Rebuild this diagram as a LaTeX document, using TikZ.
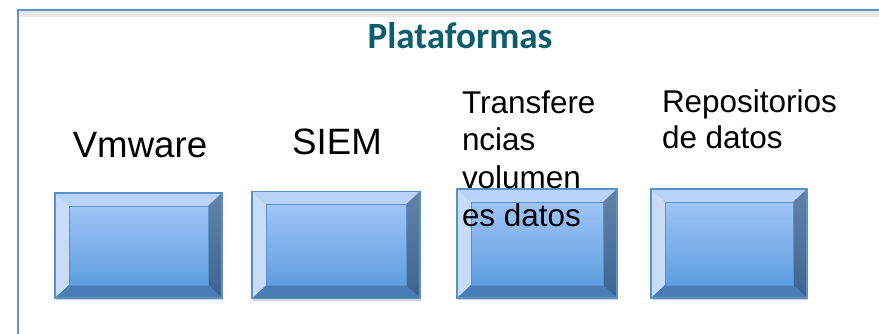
\documentclass[tikz,border=0pt]{standalone}
\usepackage{fontspec}
\setmainfont{Liberation Sans}
\newfontfamily\titlefont{Carlito}
\usepackage{tikz}
\usetikzlibrary{shadows}

\definecolor{titleteal}{RGB}{11,94,108}
\definecolor{frameblue}{RGB}{98,148,212}
\definecolor{bevline}{RGB}{90,143,208}
\definecolor{bevtop}{RGB}{185,212,247}
\definecolor{bevleft}{RGB}{201,220,245}
\definecolor{bevrighttop}{RGB}{100,130,168}
\definecolor{bevrightbot}{RGB}{60,100,146}
\definecolor{bevbottom}{RGB}{74,124,184}
\definecolor{facetop}{RGB}{160,196,246}
\definecolor{facebot}{RGB}{94,158,224}

\newcommand\bvx{10.5pt}
\newcommand\bvy{9.75pt}

\begin{document}
\begin{tikzpicture}[x=0.75pt, y=-0.75pt,
    every node/.style={inner sep=0pt, outer sep=0pt},
    bigtext/.style={font=\fontsize{27.5}{33}\selectfont, anchor=base},
    smalltext/.style={font=\fontsize{23.6}{28.2}\selectfont, align=left, anchor=base west},
    panel/.style={draw=frameblue, line width=1.3pt, anchor=north west,
        minimum width=680pt, minimum height=270pt,
        path picture={
            \shade[top color=black!9, bottom color=white]
                (path picture bounding box.north west) rectangle
                ([yshift=-5pt]path picture bounding box.north east);
        }},
    bevel/.style={draw=bevline, line width=0.8pt, fill=facebot,
        drop shadow={shadow xshift=1pt, shadow yshift=-1.5pt, opacity=0.3, fill=black!60},
        path picture={
            \coordinate (p1) at (path picture bounding box.north west);
            \coordinate (p2) at (path picture bounding box.north east);
            \coordinate (p3) at (path picture bounding box.south east);
            \coordinate (p4) at (path picture bounding box.south west);
            \coordinate (q1) at ([shift={(\bvx,-\bvy)}]p1);
            \coordinate (q2) at ([shift={(-\bvx,-\bvy)}]p2);
            \coordinate (q3) at ([shift={(-\bvx,\bvy)}]p3);
            \coordinate (q4) at ([shift={(\bvx,\bvy)}]p4);
            \fill[bevtop] (p1) -- (p2) -- (q2) -- (q1) -- cycle;
            \fill[bevleft] (p1) -- (q1) -- (q4) -- (p4) -- cycle;
            \shade[top color=bevrighttop, bottom color=bevrightbot] (p2) -- (p3) -- (q3) -- (q2) -- cycle;
            \fill[bevbottom] (p4) -- (q4) -- (q3) -- (p3) -- cycle;
            \shade[top color=facetop, bottom color=facebot] (q1) rectangle (q3);
            \draw[bevline, line width=0.5pt] (q1) rectangle (q3);
        }}
  ]
    \useasboundingbox (0,0) rectangle (879,333);

    % frame
    \node[panel] (frame) at (18,10) {};
    \node[font=\titlefont\bfseries\fontsize{27.8}{33}\selectfont, text=titleteal, anchor=base] (title) at (460,48) {Plataformas};

    % boxes
    \node[bevel, minimum width=125.25pt, minimum height=78.75pt] (vmbox) at (138.5,245.5) {};
    \node[bevel, minimum width=126pt, minimum height=80.25pt] (siembox) at (336,245) {};
    \node[bevel, minimum width=120pt, minimum height=81.75pt] (transferbox) at (537,243.5) {};
    \node[bevel, minimum width=117pt, minimum height=81.75pt] (reposbox) at (729,243.5) {};

    % captions (anchored on the last line)
    \node[bigtext] (vmware) at (140,157) {Vmware};
    \node[bigtext] (siem) at (337,154) {SIEM};
    \node[smalltext] (transfer) at (462,226) {Transfere\\ncias\\volumen\\es datos};
    \node[smalltext, font=\fontsize{23.6}{26.8}\selectfont] (repos) at (662,148) {Repositorios\\de datos};
\end{tikzpicture}
\end{document}
